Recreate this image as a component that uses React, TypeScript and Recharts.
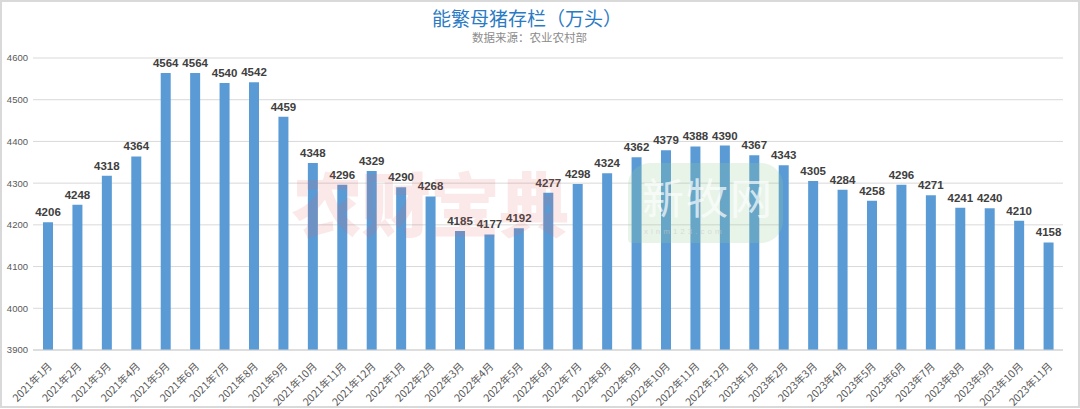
import React from "react";
import { BarChart, Bar, XAxis, YAxis, CartesianGrid, LabelList } from "recharts";

const months: string[] = [
  "2021年1月", "2021年2月", "2021年3月", "2021年4月", "2021年5月", "2021年6月",
  "2021年7月", "2021年8月", "2021年9月", "2021年10月", "2021年11月", "2021年12月",
  "2022年1月", "2022年2月", "2022年3月", "2022年4月", "2022年5月", "2022年6月",
  "2022年7月", "2022年8月", "2022年9月", "2022年10月", "2022年11月", "2022年12月",
  "2023年1月", "2023年2月", "2023年3月", "2023年4月", "2023年5月", "2023年6月",
  "2023年7月", "2023年8月", "2023年9月", "2023年10月", "2023年11月",
];

const sows: number[] = [
  4206, 4248, 4318, 4364, 4564, 4564, 4540, 4542, 4459, 4348, 4296, 4329,
  4290, 4268, 4185, 4177, 4192, 4277, 4298, 4324, 4362, 4379, 4388, 4390,
  4367, 4343, 4305, 4284, 4258, 4296, 4271, 4241, 4240, 4210, 4158,
];

const yTicks: number[] = [3900, 4000, 4100, 4200, 4300, 4400, 4500, 4600];

const data = months.map((m, i) => ({ month: m, value: sows[i] }));

const XTick = (props: any) => {
  const { x, y, payload } = props;
  return (
    <text
      x={x + 5}
      y={y + 9}
      transform={`rotate(-45 ${x + 5} ${y + 9})`}
      textAnchor="end"
      fontSize={10.5}
      fill="#595959"
      fontFamily="'Noto Sans CJK SC', sans-serif"
    >
      {payload.value}
    </text>
  );
};

export default function App() {
  return (
    <div
      style={{
        position: "absolute",
        left: 0,
        top: 0,
        width: 1080,
        height: 409,
        background: "#fff",
        overflow: "hidden",
      }}
    >
      <div
        style={{
          position: "absolute",
          left: 0,
          top: 0,
          width: 1076,
          height: 404,
          border: "2px solid #d9d9d9",
          boxSizing: "content-box",
        }}
      />
      <div
        style={{
          position: "absolute",
          left: 0,
          top: 5,
          width: 1054,
          textAlign: "center",
          fontSize: 19,
          color: "#2a7bc4",
          fontFamily: "'Noto Sans CJK SC', sans-serif",
          lineHeight: "26px",
        }}
      >
        能繁母猪存栏（万头）
      </div>
      <div
        style={{
          position: "absolute",
          left: 472,
          top: 29,
          fontSize: 11.5,
          color: "#8c8c8c",
          fontFamily: "'Noto Sans CJK SC', sans-serif",
          lineHeight: "16px",
        }}
      >
        数据来源：农业农村部
      </div>
      <div style={{ position: "absolute", left: 0, top: 0 }}>
        <BarChart
          width={1080}
          height={409}
          data={data}
          margin={{ top: 58, right: 17, bottom: 0, left: 0 }}
          barCategoryGap="33%"
        >
          <CartesianGrid vertical={false} stroke="#d9d9d9" strokeWidth={1} />
          <XAxis
            dataKey="month"
            interval={0}
            height={59}
            tickLine={false}
            axisLine={{ stroke: "#d0d0d0", strokeWidth: 1 }}
            tick={<XTick />}
          />
          <YAxis
            domain={[3900, 4600]}
            ticks={yTicks}
            width={33}
            tickLine={false}
            axisLine={false}
            tickSize={3}
            tickMargin={2}
            tick={{ fontSize: 9.5, fill: "#595959", fontFamily: "'Liberation Sans', sans-serif" }}
            allowDataOverflow
          />
          <Bar dataKey="value" fill="#5b9bd5" barSize={10} isAnimationActive={false}>
            <LabelList
              dataKey="value"
              position="top"
              offset={6}
              fill="#404040"
              fontSize={11.5}
              fontWeight="bold"
              fontFamily="'Liberation Sans', sans-serif"
            />
          </Bar>
        </BarChart>
      </div>
      <div
        style={{
          position: "absolute",
          left: 292,
          top: 160,
          fontSize: 70,
          fontWeight: 900,
          letterSpacing: -1,
          color: "rgba(225, 90, 90, 0.14)",
          fontFamily: "'Noto Sans CJK SC', sans-serif",
          lineHeight: "84px",
          pointerEvents: "none",
        }}
      >
        农财宝典
      </div>
      <div
        style={{
          position: "absolute",
          left: 628,
          top: 163,
          width: 155,
          height: 80,
          borderRadius: "22px 22px 22px 4px",
          background: "rgba(150, 205, 150, 0.22)",
          pointerEvents: "none",
        }}
      >
        <div
          style={{
            position: "absolute",
            left: 14,
            top: 6,
            fontSize: 42,
            color: "rgba(255,255,255,0.7)",
            fontFamily: "'Noto Sans CJK SC', sans-serif",
            lineHeight: "54px",
            letterSpacing: 2,
          }}
        >
          新牧网
        </div>
        <div
          style={{
            position: "absolute",
            left: 16,
            top: 64,
            fontSize: 8,
            color: "rgba(200,200,200,0.6)",
            fontFamily: "'Liberation Sans', sans-serif",
            letterSpacing: 3,
          }}
        >
          xinm123.com
        </div>
      </div>
    </div>
  );
}
